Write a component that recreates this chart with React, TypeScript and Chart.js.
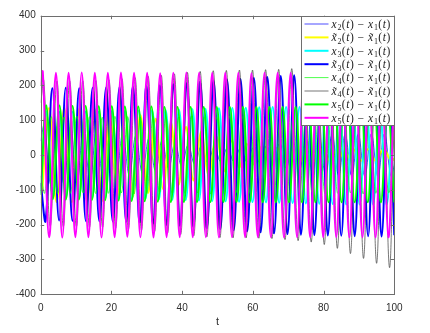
import React, { useEffect, useRef } from 'react';
import { Chart, registerables } from 'chart.js';

Chart.register(...registerables);

// ---------- data ----------
const xTickValues = [0, 20, 40, 60, 80, 100];
const yTickValues = [-400, -300, -200, -100, 0, 100, 200, 300, 400];
const xAxisTitle = 't';

// Legend labels: "~" = tilde accent, "_n" = subscript
const seriesLabels = [
  'x_2(t) - x_1(t)',
  '~x_2(t) - ~x_1(t)',
  'x_3(t) - x_1(t)',
  '~x_3(t) - ~x_1(t)',
  'x_4(t) - x_1(t)',
  '~x_4(t) - ~x_1(t)',
  'x_5(t) - x_1(t)',
  'x_5(t) - x_1(t)',
];

// [t, value] at the turning points of each trace
const x2x1 = [[0,40],[1.0,85],[2.85,-84],[4.7,83],[6.55,-82],[8.4,80],[10.25,-78],[12.1,76],[13.95,-74],[15.8,72],[17.65,-70],[19.5,68],[21.35,-65],[23.2,62],[25.05,-58],[26.9,55],[28.75,-52],[30.6,48],[32.45,-45],[34.3,41],[36.15,-38],[38.0,35],[39.85,-32],[41.7,29],[43.55,-27],[45.4,25],[47.25,-23],[49.1,22],[50.95,-20],[52.8,20],[54.65,-19],[56.5,20],[58.35,-20],[60.2,22],[62.05,-24],[63.9,27],[65.75,-30],[67.6,34],[69.45,-38],[71.3,42],[73.15,-45],[75.0,48],[76.85,-51],[78.7,53],[80.55,-55],[82.4,57],[84.25,-58],[86.1,59],[87.95,-60],[89.8,60],[91.65,-61],[93.5,61],[95.35,-61],[97.2,61],[99.05,-61],[100,-30]];

const xt2xt1 = [[0,-134],[0.2,-135],[2.35,135],[4.5,-135],[6.65,135],[8.8,-135],[10.95,134],[13.1,-134],[15.25,133],[17.4,-132],[19.55,130],[21.7,-127],[23.85,123],[26.0,-119],[28.15,114],[30.3,-109],[32.45,104],[34.6,-98],[36.75,92],[38.9,-86],[41.05,80],[43.2,-73],[45.35,66],[47.5,-59],[49.65,53],[51.8,-47],[53.95,41],[56.1,-36],[58.25,32],[60.4,-28],[62.55,25],[64.7,-23],[66.85,21],[69.0,-20],[71.15,19],[73.3,-18],[75.45,18],[77.6,-17],[79.75,17],[81.9,-17],[84.05,17],[86.2,-17],[88.35,17],[90.5,-17],[92.65,17],[94.8,-17],[96.95,17],[99.1,-17],[100,-10]];

const x3x1 = [[0,-110],[1.6,124],[3.45,-122],[5.3,124],[7.15,-122],[9.0,124],[10.85,-123],[12.7,125],[14.55,-123],[16.4,125],[18.25,-124],[20.1,126],[22.0,-125],[23.9,127],[25.8,-126],[27.7,128],[29.6,-127],[31.5,129],[33.4,-128],[35.3,130],[37.2,-129],[39.1,131],[41.0,-130],[42.9,132],[44.75,-131],[46.6,133],[48.5,-132],[50.4,134],[52.3,-133],[54.2,135],[56.1,-134],[58.0,136],[59.9,-135],[61.8,137],[63.7,-136],[65.6,138],[67.45,-137],[69.4,138],[71.25,-138],[73.2,138],[75.0,-139],[76.9,138],[78.8,-140],[80.7,138],[82.6,-141],[84.5,138],[86.4,-142],[88.3,138],[90.2,-142],[92.1,138],[94.0,-142],[95.9,138],[97.8,-142],[99.7,138],[100,136]];

const xt3xt1 = [[0,-80],[1.4,-188],[3.3,192],[5.2,-188],[7.1,193],[9.0,-189],[10.9,192],[12.8,-190],[14.7,193],[16.6,-190],[18.5,194],[20.4,-191],[22.3,195],[24.2,-192],[26.1,196],[28.0,-194],[29.9,198],[31.8,-197],[33.7,200],[35.6,-200],[37.5,203],[39.4,-203],[41.3,206],[43.2,-206],[45.1,210],[47.0,-210],[48.9,213],[50.8,-213],[52.7,216],[54.6,-216],[56.5,218],[58.4,-219],[60.3,221],[62.2,-222],[64.1,224],[66.0,-225],[67.9,227],[69.8,-227],[71.7,229],[73.6,-229],[75.5,230],[77.4,-230],[79.3,231],[81.2,-231],[83.1,232],[85.0,-232],[86.9,232],[88.8,-233],[90.7,233],[92.6,-233],[94.5,233],[96.4,-234],[98.3,234],[100,-230]];

const x4x1 = [[0,-60],[1.2,-108],[3.0,110],[4.8,-111],[6.6,109],[8.4,-110],[10.2,112],[12.0,-109],[13.8,110],[15.6,-111],[17.4,108],[19.2,-110],[21.0,111],[22.8,-109],[24.6,110],[26.4,-112],[28.2,109],[30.0,-110],[31.8,111],[33.6,-108],[35.4,110],[37.2,-111],[39.0,109],[40.8,-110],[42.6,112],[44.4,-109],[46.2,110],[48.0,-111],[49.8,108],[51.6,-110],[53.4,111],[55.2,-109],[57.0,110],[58.8,-112],[60.6,109],[62.4,-110],[64.2,111],[66.0,-108],[67.8,110],[69.6,-111],[71.4,109],[73.2,-110],[75.0,112],[76.8,-109],[78.6,110],[80.4,-111],[82.2,108],[84.0,-110],[85.8,111],[87.6,-109],[89.4,110],[91.2,-112],[93.0,109],[94.8,-110],[96.6,111],[98.4,-108],[100,60]];

const xt4xt1 = [[0,150],[0.9,212],[2.7,-205],[4.6,212],[6.4,-206],[8.2,213],[10.1,-206],[11.9,213],[13.8,-207],[15.6,214],[17.5,-208],[19.3,216],[21.2,-210],[23.0,219],[24.8,-213],[26.7,222],[28.5,-216],[30.4,226],[32.2,-220],[34.1,229],[35.9,-224],[37.8,233],[39.6,-228],[41.5,237],[43.3,-232],[45.1,240],[47.0,-235],[48.8,242],[50.7,-237],[52.5,243],[54.4,-238],[56.2,244],[58.1,-238],[59.9,244],[61.7,-239],[63.6,245],[65.4,-240],[67.3,246],[69.1,-243],[71.0,248],[72.8,-246],[74.7,252],[76.5,-250],[78.4,258],[80.2,-257],[82.0,265],[83.9,-268],[85.7,275],[87.6,-283],[89.4,288],[91.3,-297],[93.1,300],[95.0,-311],[96.8,312],[98.6,-322],[100,160]];

const x5x1a = [[0,-115],[1.6,142],[3.4,-127],[5.3,142],[7.1,-128],[9.0,141],[10.8,-128],[12.7,141],[14.5,-129],[16.4,140],[18.2,-130],[20.1,140],[22.0,-131],[23.8,139],[25.7,-132],[27.6,139],[29.4,-133],[31.3,139],[33.1,-134],[35.0,138],[36.8,-135],[38.7,138],[40.5,-135],[42.4,138],[44.2,-135],[46.1,138],[48.0,-135],[49.8,138],[51.7,-135],[53.5,138],[55.4,-135],[57.2,138],[59.1,-136],[61.0,138],[62.8,-136],[64.7,138],[66.5,-136],[68.4,138],[70.2,-136],[72.1,138],[73.9,-136],[75.8,138],[77.7,-136],[79.5,138],[81.4,-136],[83.2,138],[85.1,-136],[86.9,138],[88.8,-136],[90.7,138],[92.5,-136],[94.4,138],[96.2,-136],[98.1,138],[100,-136]];

const x5x1b = [[0,200],[0.6,238],[2.4,-236],[4.3,236],[6.1,-237],[7.9,236],[9.8,-236],[11.6,237],[13.5,-236],[15.3,236],[17.2,-237],[19.0,236],[20.9,-236],[22.7,237],[24.5,-235],[26.4,236],[28.2,-236],[30.1,236],[31.9,-237],[33.8,235],[35.6,-236],[37.5,236],[39.3,-236],[41.2,237],[43.0,-236],[44.8,236],[46.7,-236],[48.5,236],[50.4,-237],[52.2,236],[54.1,-236],[55.9,236],[57.8,-236],[59.6,235],[61.4,-236],[63.3,236],[65.1,-236],[67.0,236],[68.8,-237],[70.7,236],[72.5,-236],[74.4,236],[76.2,-236],[78.1,235],[79.9,-236],[81.7,236],[83.6,-236],[85.4,236],[87.3,-237],[89.1,236],[91.0,-236],[92.8,236],[94.7,-237],[96.5,236],[98.3,-236],[100,225]];

const seriesData = [x2x1, xt2xt1, x3x1, xt3xt1, x4x1, xt4xt1, x5x1a, x5x1b];
const seriesColors = ['#0000ff', '#ffff00', '#00ffff', '#0000ff', '#00ff00', '#3c3c3c', '#00ff00', '#ff00ff'];
const seriesWidths = [0.7, 2, 2, 2, 0.7, 0.7, 2, 2];

// ---------- drawing helpers ----------
const AXIS_COLOR = '#6e6e6e';
const TEXT_COLOR = '#2e2e2e';
const SANS = '"Liberation Sans", Arial, Helvetica, sans-serif';
const SERIF = '"Liberation Serif", "Times New Roman", serif';

function drawMathLabel(ctx: CanvasRenderingContext2D, label: string, x0: number, yb: number) {
  const size = 11.5;
  let cx = x0;
  let tilde = false;
  for (let i = 0; i < label.length; i++) {
    const ch = label[i];
    if (ch === '~') { tilde = true; continue; }
    if (ch === ' ') { cx += 2.4; continue; }
    if (ch === '_') {
      const s = label[++i];
      ctx.font = `8px ${SERIF}`;
      ctx.textAlign = 'left';
      ctx.fillText(s, cx + 0.2, yb + 2.6);
      cx += 4.2;
      continue;
    }
    if (ch === '-') {
      ctx.font = `${size}px ${SERIF}`;
      ctx.textAlign = 'center';
      ctx.fillText('\u2212', cx + 4.3, yb);
      cx += 8.6;
      continue;
    }
    if (ch === 'x' || ch === 't') {
      const adv = ch === 'x' ? 6.3 : 4.0;
      ctx.font = `italic ${size}px ${SERIF}`;
      ctx.textAlign = 'center';
      ctx.fillText(ch, cx + adv / 2, yb);
      if (tilde) {
        ctx.font = `${size}px ${SERIF}`;
        ctx.fillText('\u02DC', cx + adv / 2 + 0.8, yb + 1.2);
        tilde = false;
      }
      cx += adv;
      continue;
    }
    ctx.font = `${size}px ${SERIF}`;
    ctx.textAlign = 'center';
    ctx.fillText(ch, cx + 2.15, yb);
    cx += 4.3;
  }
}

const boxPlugin = {
  id: 'matlabBox',
  afterDatasetsDraw(chart: any) {
    const { ctx, chartArea } = chart;
    const xs = chart.scales.x;
    const ys = chart.scales.y;
    const { left, right, top, bottom } = chartArea;
    ctx.save();
    ctx.strokeStyle = AXIS_COLOR;
    ctx.lineWidth = 1;
    ctx.strokeRect(Math.round(left) + 0.5, Math.round(top) + 0.5, Math.round(right) - Math.round(left), Math.round(bottom) - Math.round(top));
    const tl = 3.5;
    ctx.beginPath();
    xTickValues.forEach((v) => {
      const px = Math.round(xs.getPixelForValue(v)) + 0.5;
      ctx.moveTo(px, bottom); ctx.lineTo(px, bottom - tl);
      ctx.moveTo(px, top); ctx.lineTo(px, top + tl);
    });
    yTickValues.forEach((v) => {
      const py = Math.round(ys.getPixelForValue(v)) + 0.5;
      ctx.moveTo(left, py); ctx.lineTo(left + tl, py);
      ctx.moveTo(right, py); ctx.lineTo(right - tl, py);
    });
    ctx.stroke();
    ctx.restore();
  },
  afterDraw(chart: any) {
    const { ctx, chartArea } = chart;
    const bx0 = 301.5;
    const bx1 = Math.round(chartArea.right) + 0.5;
    const by0 = Math.round(chartArea.top) + 0.5;
    const by1 = 125.5;
    ctx.save();
    ctx.fillStyle = '#ffffff';
    ctx.fillRect(bx0, by0, bx1 - bx0, by1 - by0);
    ctx.strokeStyle = AXIS_COLOR;
    ctx.lineWidth = 1;
    ctx.strokeRect(bx0, by0, bx1 - bx0, by1 - by0);
    const rowH = 13.4;
    const firstY = 24;
    seriesLabels.forEach((lab, i) => {
      const cy = firstY + i * rowH;
      ctx.strokeStyle = seriesColors[i];
      ctx.lineWidth = seriesWidths[i];
      ctx.beginPath();
      ctx.moveTo(304.5, cy);
      ctx.lineTo(328.5, cy);
      ctx.stroke();
      ctx.fillStyle = '#1a1a1a';
      ctx.textBaseline = 'alphabetic';
      drawMathLabel(ctx, lab, 331, cy + 3.8);
    });
    ctx.restore();
  },
};

export default function App() {
  const canvasRef = useRef<HTMLCanvasElement>(null);

  useEffect(() => {
    const canvas = canvasRef.current;
    if (!canvas) return;
    const datasets = seriesData.map((pts, i) => ({
      label: seriesLabels[i],
      data: pts.map(([t, v]) => ({ x: t, y: v })),
      borderColor: seriesColors[i],
      backgroundColor: seriesColors[i],
      borderWidth: seriesWidths[i],
      pointRadius: 0,
      tension: 0.4,
      fill: false,
      order: seriesData.length - 1 - i,
    }));

    const chart = new Chart(canvas, {
      type: 'line',
      data: { datasets },
      plugins: [boxPlugin],
      options: {
        responsive: false,
        animation: false,
        events: [],
        layout: { padding: { left: 0, right: 35.7, top: 15.7, bottom: 0 } },
        plugins: {
          legend: { display: false },
          tooltip: { enabled: false },
          title: { display: false },
        },
        scales: {
          x: {
            type: 'linear',
            min: 0,
            max: 100,
            afterBuildTicks: (s: any) => { s.ticks = xTickValues.map((v) => ({ value: v })); },
            afterFit: (s: any) => { s.height = 38.7; },
            grid: { display: false, drawTicks: false },
            border: { display: false },
            ticks: { color: TEXT_COLOR, font: { family: SANS, size: 10 }, padding: 7.5, maxRotation: 0, autoSkip: false },
            title: { display: true, text: xAxisTitle, color: TEXT_COLOR, font: { family: SANS, size: 11 }, padding: { top: 0, bottom: 4 } },
          },
          y: {
            type: 'linear',
            min: -400,
            max: 400,
            afterBuildTicks: (s: any) => { s.ticks = yTickValues.map((v) => ({ value: v })); },
            afterFit: (s: any) => { s.width = 40.7; },
            grid: { display: false, drawTicks: false },
            border: { display: false },
            ticks: { color: TEXT_COLOR, font: { family: SANS, size: 10 }, padding: 5, autoSkip: false },
          },
        },
      } as any,
    });
    return () => chart.destroy();
  }, []);

  return (
    <div style={{ position: 'absolute', left: 0, top: 0, width: 430, height: 333, background: '#ffffff' }}>
      <canvas ref={canvasRef} width={430} height={333} style={{ display: 'block', width: 430, height: 333 }} />
    </div>
  );
}
